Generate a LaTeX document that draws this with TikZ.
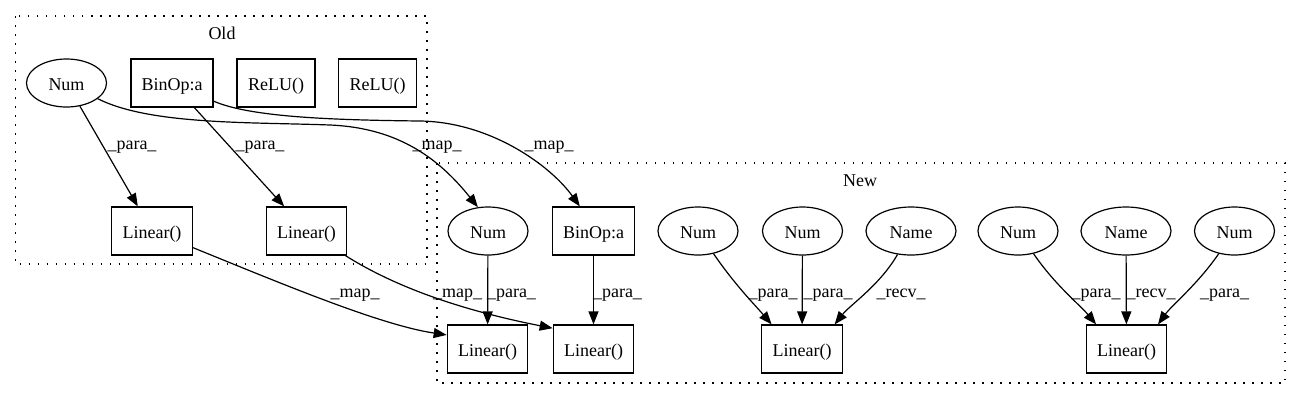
\documentclass[tikz,border=0pt]{standalone}
\usepackage{fontspec}
\setmainfont{Liberation Serif}
\usepackage{tikz}
\usetikzlibrary{arrows.meta}
\usetikzlibrary{positioning}
\usetikzlibrary{shapes.geometric}
\tikzstyle{line} = [draw, -{Triangle[length=13pt, width=10pt]}, line width=1.2pt]
\tikzstyle{cluster} = [draw, line width=1.2pt, dash pattern=on 1.5pt off 7.5pt]

\begin{document}
\begin{tikzpicture}[x=1pt, y=-1pt, font=\fontsize{18}{21}\selectfont,
				box/.style={draw, rectangle, line width=1.2pt, minimum width=80.5pt, minimum height=48pt, inner sep=0pt, text height=15.5pt, text depth=0pt},
				oval/.style={draw, ellipse, line width=1.2pt, minimum width=80pt, minimum height=48pt, inner sep=0pt, text height=15.5pt, text depth=0pt},
				lbl/.style={anchor=base, inner sep=0pt}]

				\useasboundingbox (0,0) rectangle (1301,400);

				\draw [cluster] (15.5,16) rectangle (427,264);
				\draw [cluster] (437,163) rectangle (1285,383);
				\node[lbl] (old) at (222,39) {Old};
				\node[lbl] (new) at (860,186.5) {New};

				\node (node1) at (66.5,83) [oval] {Num};
				\node (node2) at (172,83) [box, minimum width=82pt] {BinOp:a};
				\node (node3) at (276,83) [box, minimum width=78pt] {ReLU()};
				\node (node4) at (377.5,83) [box, minimum width=78pt] {ReLU()};
				\node (node5) at (152,231) [box] {Linear()};
				\node (node6) at (306.5,231) [box] {Linear()};

				\node (node7) at (488,231) [oval] {Num};
				\node (node8) at (593.5,231) [box, minimum width=82pt] {BinOp:a};
				\node (node9) at (698,231) [oval] {Num};
				\node (node10) at (802.5,231) [oval] {Num};
				\node (node11) at (911,231) [oval, minimum width=90pt] {Name};
				\node (node12) at (1018,231) [oval] {Num};
				\node (node13) at (1126,231) [oval, minimum width=90pt] {Name};
				\node (node14) at (1234.5,231) [oval] {Num};
				\node (node15) at (487.5,349) [box] {Linear()};
				\node (node16) at (593.5,349) [box] {Linear()};
				\node (node17) at (802,349) [box] {Linear()};
				\node (node18) at (1126.5,349) [box] {Linear()};

				\draw [line] (node1) -- (node5) node[lbl] (lab1) at (132,149) {\_para\_};
				\draw [line] (node2) -- (node6) node[lbl] (lab2) at (260,149) {\_para\_};
				\draw [line] (node1) .. controls (150,125) and (250,122) .. (330,125) .. controls (400,128) and (440,160) .. (node7.113) node[lbl] (lab3) at (437,149) {\_map\_};
				\draw [line] (node2) .. controls (250,117) and (330,120) .. (420,121) .. controls (490,122) and (550,165) .. (node8.119) node[lbl] (lab4) at (549,149) {\_map\_};
				\draw [line] (node5) .. controls (280,283) and (380,325) .. (node15.161) node[lbl] (lab5) at (355,297) {\_map\_};
				\draw [line] (node6) .. controls (400,290) and (470,312) .. (node16.153) node[lbl] (lab6) at (457.5,297) {\_map\_};
				\draw [line] (node7) -- (node15) node[lbl] (lab7) at (511.5,297) {\_para\_};
				\draw [line] (node8) -- (node16) node[lbl] (lab8) at (617.5,297) {\_para\_};
				\draw [line] (node9) .. controls (735,285) and (755,305) .. (node17.141) node[lbl] (lab9) at (773,297) {\_para\_};
				\draw [line] (node10) -- (node17) node[lbl] (lab10) at (828,297) {\_para\_};
				\draw [line] (node11) .. controls (880,285) and (850,305) .. (node17.37) node[lbl] (lab11) at (901,297) {\_recv\_};
				\draw [line] (node12) .. controls (1055,285) and (1080,305) .. (node18.141) node[lbl] (lab12) at (1096,297) {\_para\_};
				\draw [line] (node13) -- (node18) node[lbl] (lab13) at (1151,297) {\_recv\_};
				\draw [line] (node14) .. controls (1197,285) and (1172,305) .. (node18.38) node[lbl] (lab14) at (1224.5,297) {\_para\_};

			\end{tikzpicture}
\end{document}
